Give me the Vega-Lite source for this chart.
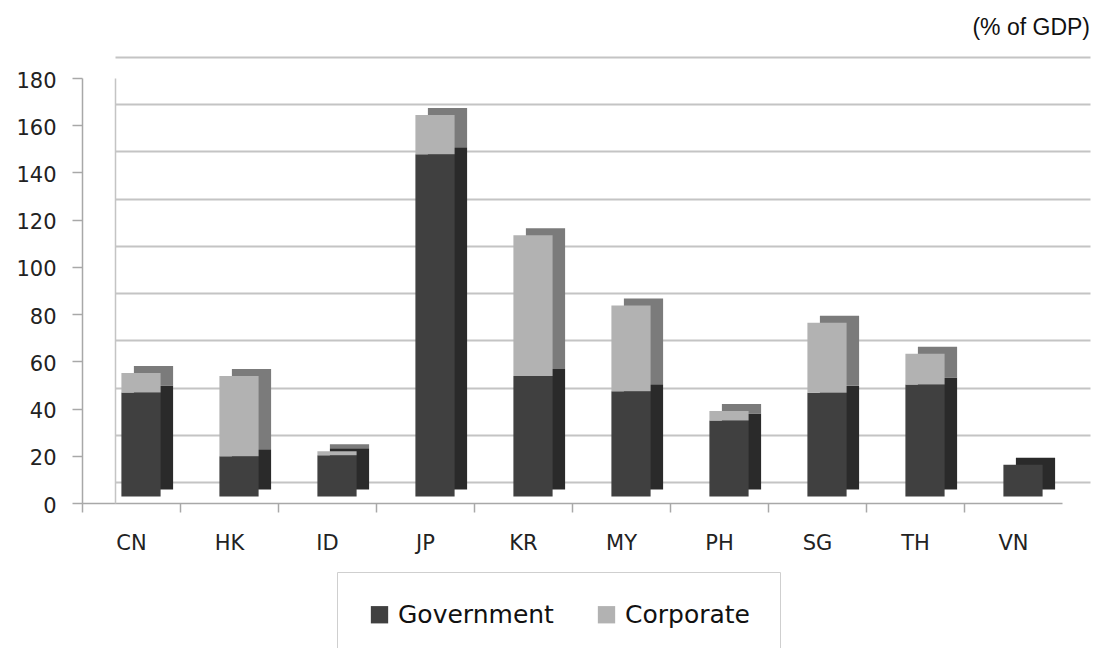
{
  "$schema": "https://vega.github.io/schema/vega-lite/v6.json",
  "autosize": "none",
  "width": 975,
  "height": 425,
  "padding": {"left": 115, "top": 78, "right": 4, "bottom": 145},
  "background": "white",
  "title": {"text": "(% of GDP)", "anchor": "end", "font": "Liberation Sans", "fontSize": 23, "fontWeight": "normal", "color": "#111", "dx": -5, "offset": 30},
  "config": {"view": {"stroke": null}},
  "data": {"values": [
    {"country": "CN", "type": "Government", "value": 44},
    {"country": "CN", "type": "Corporate", "value": 8.3},
    {"country": "HK", "type": "Government", "value": 17},
    {"country": "HK", "type": "Corporate", "value": 34},
    {"country": "ID", "type": "Government", "value": 17.5},
    {"country": "ID", "type": "Corporate", "value": 1.7},
    {"country": "JP", "type": "Government", "value": 145},
    {"country": "JP", "type": "Corporate", "value": 16.6},
    {"country": "KR", "type": "Government", "value": 51},
    {"country": "KR", "type": "Corporate", "value": 59.7},
    {"country": "MY", "type": "Government", "value": 44.6},
    {"country": "MY", "type": "Corporate", "value": 36.3},
    {"country": "PH", "type": "Government", "value": 32.2},
    {"country": "PH", "type": "Corporate", "value": 4},
    {"country": "SG", "type": "Government", "value": 43.9},
    {"country": "SG", "type": "Corporate", "value": 29.7},
    {"country": "TH", "type": "Government", "value": 47.4},
    {"country": "TH", "type": "Corporate", "value": 13.1},
    {"country": "VN", "type": "Government", "value": 13.4},
    {"country": "VN", "type": "Corporate", "value": 0}
  ]},
  "encoding": {
    "order": {"field": "type", "sort": "descending"}
  },
  "layer": [
    {
      "mark": {"type": "bar", "opacity": 0},
      "encoding": {
        "x": {"field": "country", "type": "nominal", "sort": null, "scale": {"range": [0, 975]}, "axis": null},
        "y": {"field": "value", "type": "quantitative", "aggregate": "sum", "stack": "zero",
          "scale": {"domain": [0, 180]},
          "axis": {"orient": "left", "title": null, "values": [0,20,40,60,80,100,120,140,160,180], "labels": false, "ticks": false,
            "domain": true, "domainColor": "#c4c4c4", "domainWidth": 1.5, "grid": true, "gridColor": "#c4c4c4", "gridWidth": 1.8, "tickOffset": -21}}
      }
    },
    {
      "mark": {"type": "bar", "xOffset": 22.5, "x2Offset": 22.5, "yOffset": -13.5, "y2Offset": -13.5},
      "encoding": {
        "x": {"field": "country", "type": "nominal", "sort": null,
          "scale": {"range": [-33, 947], "paddingInner": 0.6, "paddingOuter": 0.3}, "axis": null},
        "y": {"field": "value", "type": "quantitative", "aggregate": "sum", "stack": "zero", "axis": null},
        "color": {"condition": {"test": "datum.type === 'Government'", "value": "#2a2a2a"}, "value": "#7b7b7b"}
      }
    },
    {
      "mark": {"type": "bar", "xOffset": 10, "x2Offset": 10, "yOffset": -6.5, "y2Offset": -6.5},
      "encoding": {
        "x": {"field": "country", "type": "nominal", "sort": null,
          "scale": {"range": [-33, 947], "paddingInner": 0.6, "paddingOuter": 0.3},
          "axis": {"title": null, "labelAngle": 0, "labelFont": "DejaVu Sans", "labelFontSize": 21, "labelColor": "#222", "labelPadding": 20,
            "tickOffset": -49, "labelOffset": 49, "domainColor": "#a8a8a8", "tickColor": "#a8a8a8", "tickSize": 9, "ticks": true, "grid": false, "domainWidth": 1.5, "tickWidth": 1.5}},
        "y": {"field": "value", "type": "quantitative", "aggregate": "sum", "stack": "zero",
          "axis": {"orient": "left", "offset": 33, "title": null, "values": [0,20,40,60,80,100,120,140,160,180], "grid": false,
            "labelFont": "DejaVu Sans", "labelFontSize": 21, "labelColor": "#222", "labelPadding": 16, "labelOffset": 3,
            "domainColor": "#a8a8a8", "tickColor": "#a8a8a8", "tickSize": 10, "domainWidth": 1.5, "tickWidth": 1.5}},
        "color": {"field": "type", "type": "nominal",
          "scale": {"domain": ["Government", "Corporate"], "range": ["#404040", "#b2b2b2"]},
          "legend": {"title": null, "orient": "none", "legendX": 222, "legendY": 494, "direction": "horizontal",
            "symbolType": "square", "symbolSize": 300, "symbolStrokeWidth": 0, "labelFont": "DejaVu Sans", "labelFontSize": 25, "labelColor": "#111",
            "columnPadding": 40, "padding": 30, "strokeColor": "#cfcfcf", "fillColor": "white", "labelOffset": 6}}
      }
    }
  ],
  "resolve": {"scale": {"x": "independent"}, "axis": {"y": "independent", "x": "independent"}}
}
